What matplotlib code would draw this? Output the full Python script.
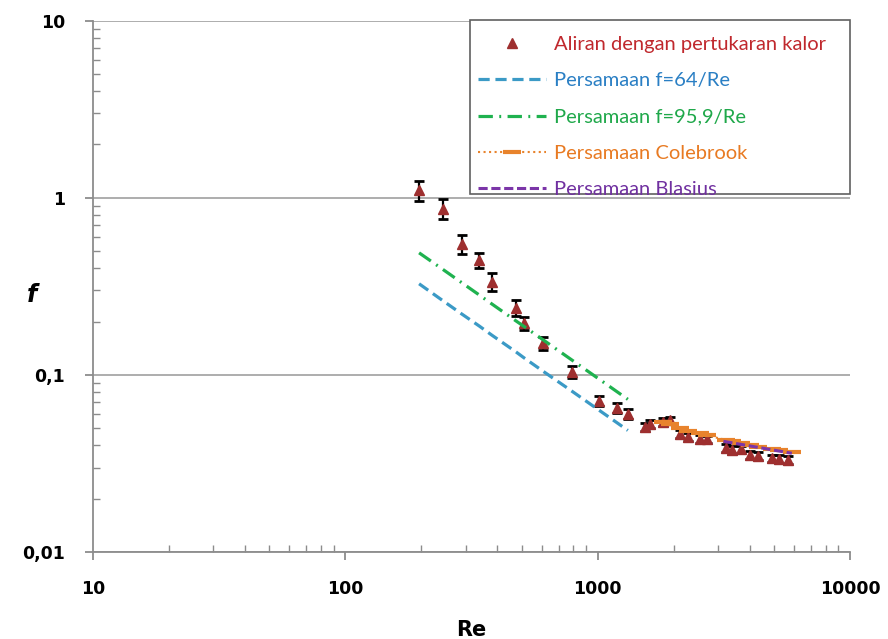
import matplotlib
matplotlib.use("Agg")
import matplotlib.pyplot as plt
from matplotlib.patches import Rectangle
from matplotlib.ticker import LogLocator, FixedLocator, FixedFormatter, NullFormatter

# data
re_data = [196, 243, 289, 339, 380, 474, 510, 607, 788, 1016, 1197, 1317,
           1538, 1610, 1813, 1932, 2117, 2278, 2541, 2709, 3220, 3402, 3693,
           4010, 4312, 4898, 5224, 5700]
f_data = [1.10, 0.87, 0.55, 0.445, 0.336, 0.24, 0.196, 0.151, 0.104, 0.0715,
          0.065, 0.0601, 0.0508, 0.0528, 0.0542, 0.0556, 0.0464, 0.0446,
          0.0435, 0.0433, 0.0387, 0.0377, 0.0380, 0.0353, 0.0348, 0.0339,
          0.0335, 0.0332]
f_err = [0.14, 0.11, 0.066, 0.045, 0.039, 0.024, 0.017, 0.012, 0.0085, 0.0048,
         0.0044, 0.0040, 0.0026, 0.0026, 0.0026, 0.0026, 0.0022, 0.0022,
         0.0021, 0.0021, 0.0019, 0.0018, 0.0018, 0.0017, 0.0017, 0.0016,
         0.0016, 0.0016]

re_lam = [196, 243, 289, 339, 380, 474, 510, 607, 788, 1016, 1197, 1317]
f_64 = [0.327, 0.263, 0.221, 0.189, 0.168, 0.135, 0.125, 0.105, 0.0812,
        0.063, 0.0535, 0.0486]
f_959 = [0.489, 0.395, 0.332, 0.283, 0.252, 0.202, 0.188, 0.158, 0.1217,
         0.0944, 0.0801, 0.0728]

re_cole = [1813, 1932, 2117, 2278, 2541, 2709, 3220, 3402, 3693, 4010, 4312,
           4898, 5224, 5880]
f_cole = [0.0540, 0.0525, 0.0500, 0.0485, 0.0468, 0.0455, 0.0430, 0.0422,
          0.0412, 0.0402, 0.0394, 0.0382, 0.0376, 0.0367]

re_blas = [3150, 3400, 3700, 4010, 4310, 4900, 5220, 5880]
f_blas = [0.04218, 0.04138, 0.04052, 0.03971, 0.03900, 0.03777, 0.03718, 0.03609]

labels = ["Aliran dengan pertukaran kalor", "Persamaan f=64/Re",
          "Persamaan f=95,9/Re", "Persamaan Colebrook", "Persamaan Blasius"]
ytick_vals = [0.01, 0.1, 1, 10]
ytick_text = ["0,01", "0,1", "1", "10"]
xtick_vals = [10, 100, 1000, 10000]
xtick_text = ["10", "100", "1000", "10000"]

c_data = "#9e2f2f"
c_blue = "#3b9ac6"
c_green = "#1fb24f"
c_orange = "#e8832c"
c_purple = "#7b35a8"
text_cols = ["#c0282d", "#2a7fc4", "#1fa84a", "#e87a22", "#7030a0"]

W, H = 888, 639
fig = plt.figure(figsize=(W / 100, H / 100), dpi=100)
ax = fig.add_axes([93 / W, 1 - 552 / H, 757 / W, 531.3 / H])

ax.errorbar(re_data, f_data, yerr=f_err, fmt="none", ecolor="black",
            elinewidth=1.6, capsize=3.8, capthick=2, zorder=3)
h0, = ax.plot(re_data, f_data, "^", color=c_data, ms=7.5, zorder=4)
h1, = ax.plot(re_lam, f_64, color=c_blue, lw=2.3, ls=(0, (3.5, 1.8)), zorder=5)
h2, = ax.plot(re_lam, f_959, color=c_green, lw=2.3, ls=(0, (4.5, 2, 0.6, 2)), zorder=5)
h3, = ax.plot(re_cole, f_cole, color=c_orange, lw=1.5, ls=":", marker="_",
              ms=13, mew=3, zorder=5)
h4, = ax.plot(re_blas, f_blas, color=c_purple, lw=2.2, ls=(0, (3, 1.2)), zorder=6)

ax.set_xscale("log")
ax.set_yscale("log")
ax.set_xlim(10, 10000)
ax.set_ylim(0.01, 10)

ax.yaxis.grid(True, which="major", color="#a0a0a0", lw=1.2)
ax.set_axisbelow(True)
for s in ["top", "right"]:
    ax.spines[s].set_visible(False)
for s in ["left", "bottom"]:
    ax.spines[s].set_color("#8c8c8c")
    ax.spines[s].set_linewidth(1.3)

ax.xaxis.set_major_locator(FixedLocator(xtick_vals))
ax.xaxis.set_major_formatter(FixedFormatter(xtick_text))
ax.yaxis.set_major_locator(FixedLocator(ytick_vals))
ax.yaxis.set_major_formatter(FixedFormatter(ytick_text))
ax.xaxis.set_minor_locator(LogLocator(base=10, subs=range(2, 10)))
ax.yaxis.set_minor_locator(LogLocator(base=10, subs=range(2, 10)))
ax.xaxis.set_minor_formatter(NullFormatter())
ax.yaxis.set_minor_formatter(NullFormatter())
ax.tick_params(which="major", direction="out", length=6, width=1.3,
               color="#8c8c8c", pad=14, labelsize=12.5)
ax.tick_params(which="minor", direction="in", length=5, width=1,
               color="#8c8c8c")
for t in ax.get_xticklabels() + ax.get_yticklabels():
    t.set_fontweight("bold")

ax.set_xlabel("Re", fontsize=15, fontweight="bold",
              family=["Liberation Sans Narrow", "DejaVu Sans"], labelpad=16)
ax.set_ylabel("f", fontsize=17, fontweight="bold", style="italic", rotation=0)
ax.yaxis.set_label_coords(-0.081, 0.462)

# legend box as in the original (tight at the bottom)
box = Rectangle((470 / W, 1 - 194 / H), 380 / W, 174 / H, transform=fig.transFigure,
                facecolor="white", edgecolor="#606060", lw=1.2, zorder=7)
ax.add_patch(box)
box.set_clip_on(False)

leg = ax.legend([h0, h1, h2, h3, h4], labels, loc="upper left",
                bbox_to_anchor=(478 / W, 1 - 36 / H), bbox_transform=fig.transFigure,
                frameon=False, borderpad=0, borderaxespad=0,
                handlelength=3.4, handletextpad=0.35, labelspacing=0.95,
                prop={"family": "Lato", "size": 14.5})
leg.set_zorder(8)
for txt, col in zip(leg.get_texts(), text_cols):
    txt.set_color(col)

fig.savefig("out.png", dpi=100)
